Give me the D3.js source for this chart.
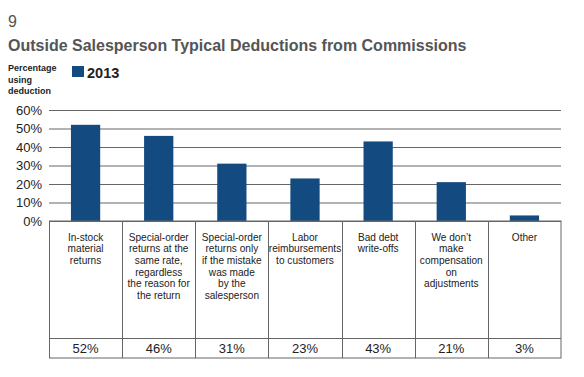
<!DOCTYPE html>
<html>
<head>
<meta charset="utf-8">
<script src="https://cdn.jsdelivr.net/npm/d3@7"></script>
<style>
  body { margin: 0; background: #fff; }
  svg { display: block; font-family: "Liberation Sans", Arial, sans-serif; }
</style>
</head>
<body>
<svg width="584" height="377"></svg>
<script>
    var categories = [
      'In-stock\nmaterial\nreturns',
      'Special-order\nreturns at the\nsame rate,\nregardless\nthe reason for\nthe return',
      'Special-order\nreturns only\nif the mistake\nwas made\nby the\nsalesperson',
      'Labor\nreimbursements\nto customers',
      'Bad debt\nwrite-offs',
      'We don\u2019t\nmake\ncompensation\non\nadjustments',
      'Other'
    ]
    var values2013 = [52, 46, 31, 23, 43, 21, 3]
    var yTicks = [0, 10, 20, 30, 40, 50, 60]

    var margin = { top: 110, left: 49, right: 23 }
    var width = 584
    var plotBottom = 221
    var tableLine = 338.5
    var tableBottom = 358

    var data = categories.map((c, i) => ({ cat: c, val: values2013[i] }))

    var xScale = d3.scaleBand()
      .domain(categories)
      .range([margin.left, width - margin.right])
      .paddingInner(0.6)
      .paddingOuter(0.3)

    var yScale = d3.scaleLinear()
      .domain([0, 60])
      .range([plotBottom, margin.top])

    var svg = d3.select('svg')

    // title block
    svg.append('text').attr('x', 8).attr('y', 27)
      .attr('font-size', 16).attr('fill', '#555').text('9')
    svg.append('text').attr('x', 8).attr('y', 51)
      .attr('font-size', 16).attr('font-weight', 'bold').attr('fill', '#555')
      .text('Outside Salesperson Typical Deductions from Commissions')

    var sub = svg.append('text').attr('font-size', 9).attr('font-weight', 'bold').attr('fill', '#222')
    ;['Percentage', 'using', 'deduction'].forEach((t, i) => {
      sub.append('tspan').attr('x', 8).attr('y', 71 + i * 11.7).text(t)
    })

    // legend
    svg.append('rect').attr('x', 72).attr('y', 66).attr('width', 12).attr('height', 11).attr('fill', '#134a80')
    svg.append('text').attr('x', 87).attr('y', 78)
      .attr('font-size', 14.5).attr('font-weight', 'bold').attr('fill', '#222').text('2013')

    // gridlines
    var yAxis = d3.axisLeft(yScale)
      .tickValues(yTicks)
      .tickSize(-(width - margin.right - margin.left))
      .tickFormat(d => d + '%')

    var gy = svg.append('g')
      .attr('transform', 'translate(' + [margin.left, 0] + ')')
      .call(yAxis)
    gy.select('.domain').remove()
    gy.selectAll('line').attr('stroke', '#666')
    gy.selectAll('text').attr('x', -7).attr('font-size', 13)
      .attr('font-family', '"Liberation Sans", Arial, sans-serif').attr('fill', '#222')

    // bars
    svg.selectAll('rect.bar')
      .data(data)
      .enter().append('rect')
      .attr('class', 'bar')
      .attr('x', d => xScale(d.cat))
      .attr('y', d => yScale(d.val))
      .attr('width', xScale.bandwidth())
      .attr('height', d => plotBottom - yScale(d.val))
      .attr('fill', '#134a80')

    // table underneath
    var step = xScale.step()
    var colLeft = d => xScale(d) - step * xScale.paddingInner() / 2
    var tbl = svg.append('g').attr('stroke', '#666').attr('fill', 'none')
    tbl.append('rect')
      .attr('x', margin.left + 0.5).attr('y', plotBottom)
      .attr('width', width - margin.right - margin.left - 0.5)
      .attr('height', tableBottom - plotBottom)
    tbl.append('line')
      .attr('x1', margin.left).attr('x2', width - margin.right)
      .attr('y1', tableLine).attr('y2', tableLine)
    tbl.selectAll('line.col')
      .data(categories.slice(1))
      .enter().append('line')
      .attr('class', 'col')
      .attr('x1', d => Math.round(colLeft(d)) + 0.5).attr('x2', d => Math.round(colLeft(d)) + 0.5)
      .attr('y1', plotBottom).attr('y2', tableBottom)

    var cx = d => xScale(d) + xScale.bandwidth() / 2

    svg.selectAll('text.cat')
      .data(data)
      .enter().append('text')
      .attr('class', 'cat')
      .attr('text-anchor', 'middle')
      .attr('font-size', 10.1)
      .attr('fill', '#222')
      .each(function (d) {
        d.cat.split('\n').forEach((t, i) => {
          d3.select(this).append('tspan').attr('x', cx(d.cat)).attr('y', 240.5 + i * 11.7).text(t)
        })
      })

    svg.selectAll('text.val')
      .data(data)
      .enter().append('text')
      .attr('class', 'val')
      .attr('text-anchor', 'middle')
      .attr('x', d => cx(d.cat))
      .attr('y', 353)
      .attr('font-size', 13)
      .attr('fill', '#222')
      .text(d => d.val + '%')
</script>
</body>
</html>
